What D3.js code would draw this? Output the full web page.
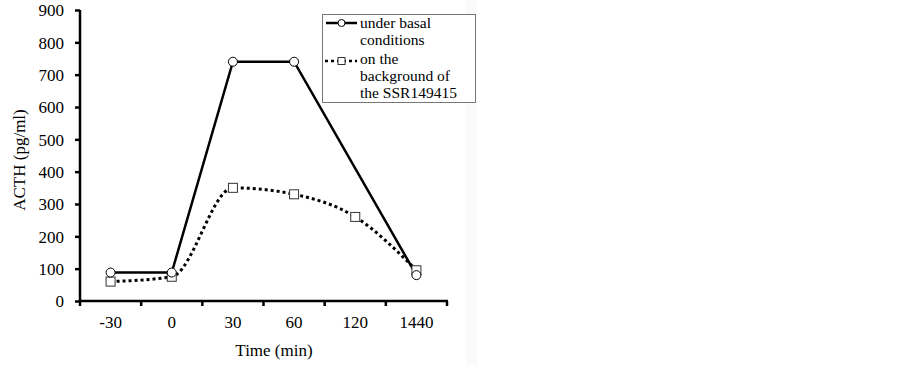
<!DOCTYPE html>
<html>
<head>
<meta charset="utf-8">
<script src="https://cdn.jsdelivr.net/npm/d3@7"></script>
<style>
	body { margin:0; background:#fff; }
	svg text { font-family:"Liberation Serif", "Times New Roman", serif; fill:#000; }
</style>
</head>
<body>
<div id="chart"></div>
<script>

// data
const times = ["-30", "0", "30", "60", "120", "1440"];
const basal = [88, 88, 740, 740, null, 80];
const ssr = [60, 75, 350, 330, 260, 95];
const yTicks = [0, 100, 200, 300, 400, 500, 600, 700, 800, 900];
const legendLabels = [["under basal", "conditions"], ["on the", "background of", "the SSR149415"]];

function graph(){

	//sizing
	const width = 902, height = 365;
	let plot = {left:80, right:447, top:10, bottom:301};

	let svg = d3.select("#chart")
		.append("svg")
		.attr("width", width)
		.attr("height", height);

	//faint strip on the right
	svg.append("rect")
		.attr("x", 466).attr("y", 0)
		.attr("width", 11).attr("height", height)
		.attr("fill", "#fbf9fb");

	let x = d3.scaleBand()
		.domain(times)
		.range([plot.left, plot.right]);

	let y = d3.scaleLinear()
		.domain([0, 900])
		.range([plot.bottom, plot.top]);

	//y axis
	let yAxis = svg.append("g")
		.attr("transform", "translate(" + plot.left + ",0)")
		.call(d3.axisLeft(y).tickValues(yTicks).tickSize(5).tickPadding(11));
	yAxis.select(".domain").attr("stroke", "#000").attr("stroke-width", 2.5)
		.attr("d", "M0," + (plot.bottom + 1) + "V" + plot.top);
	yAxis.selectAll(".tick line").attr("stroke", "#000").attr("stroke-width", 2.5);
	yAxis.selectAll(".tick text")
		.attr("font-size", 17)
		.attr("font-family", "Liberation Serif")
		.attr("dy", "0.35em");

	//x axis, ticks between categories
	let xAxis = svg.append("g")
		.attr("transform", "translate(0," + plot.bottom + ")");
	xAxis.append("line")
		.attr("x1", plot.left - 1).attr("x2", plot.right + 1)
		.attr("stroke", "#000").attr("stroke-width", 2.5);
	let bounds = times.map(t => x(t)).concat([plot.right]);
	xAxis.selectAll(".xt")
		.data(bounds)
		.enter().append("line")
		.attr("x1", d => d).attr("x2", d => d)
		.attr("y1", 0).attr("y2", 5)
		.attr("stroke", "#000").attr("stroke-width", 2.5);
	xAxis.selectAll(".xl")
		.data(times)
		.enter().append("text")
		.attr("x", d => x(d) + x.bandwidth() / 2)
		.attr("y", 27)
		.attr("text-anchor", "middle")
		.attr("font-size", 17)
		.text(d => d);

	//axis titles
	svg.append("text")
		.attr("x", 274).attr("y", 356)
		.attr("text-anchor", "middle")
		.attr("font-size", 17)
		.text("Time (min)");

	svg.append("text")
		.attr("transform", "translate(25,160) rotate(-90)")
		.attr("text-anchor", "middle")
		.attr("font-size", 17)
		.text("ACTH (pg/ml)");

	let cx = (d, i) => x(times[i]) + x.bandwidth() / 2;

	//series 2 : dotted, smoothed
	let ssrPts = ssr.map((v, i) => [cx(v, i), y(v)]);
	svg.append("path")
		.attr("d", d3.line().curve(d3.curveMonotoneX)(ssrPts))
		.attr("fill", "none")
		.attr("stroke", "#000")
		.attr("stroke-width", 3)
		.attr("stroke-dasharray", "3,3");

	//series 1 : solid
	let basalPts = basal.map((v, i) => v == null ? null : [cx(v, i), y(v)]).filter(p => p);
	svg.append("path")
		.attr("d", d3.line()(basalPts))
		.attr("fill", "none")
		.attr("stroke", "#000")
		.attr("stroke-width", 2.5);

	svg.selectAll(".sq")
		.data(ssrPts)
		.enter().append("rect")
		.attr("x", d => d[0] - 4.5).attr("y", d => d[1] - 4.5)
		.attr("width", 9).attr("height", 9)
		.attr("fill", "#fff")
		.attr("stroke", "#333").attr("stroke-width", 1);

	svg.selectAll(".ci")
		.data(basalPts)
		.enter().append("circle")
		.attr("cx", d => d[0]).attr("cy", d => d[1])
		.attr("r", 4.5)
		.attr("fill", "#fff")
		.attr("stroke", "#000").attr("stroke-width", 1);

	//legend
	let lg = svg.append("g");
	lg.append("rect")
		.attr("x", 322.5).attr("y", 14.5)
		.attr("width", 153).attr("height", 88)
		.attr("fill", "#fff")
		.attr("stroke", "#777").attr("stroke-width", 1);

	lg.append("line")
		.attr("x1", 326).attr("x2", 357).attr("y1", 23).attr("y2", 23)
		.attr("stroke", "#000").attr("stroke-width", 2.5);
	lg.append("circle")
		.attr("cx", 341.5).attr("cy", 23).attr("r", 3.5)
		.attr("fill", "#fff").attr("stroke", "#000").attr("stroke-width", 1);

	lg.append("line")
		.attr("x1", 325).attr("x2", 357).attr("y1", 61).attr("y2", 61)
		.attr("stroke", "#000").attr("stroke-width", 2.5)
		.attr("stroke-dasharray", "3,3");
	lg.append("rect")
		.attr("x", 338).attr("y", 57.5).attr("width", 7).attr("height", 7)
		.attr("fill", "#fff").attr("stroke", "#333").attr("stroke-width", 1);

	let lineY = [[28, 45], [64, 81, 98]];
	legendLabels.forEach((lines, k) => {
		lines.forEach((s, j) => {
			lg.append("text")
				.attr("x", 360).attr("y", lineY[k][j])
				.attr("font-size", 15.5)
				.text(s);
		});
	});

} //function graph

graph();
</script>
</body>
</html>
